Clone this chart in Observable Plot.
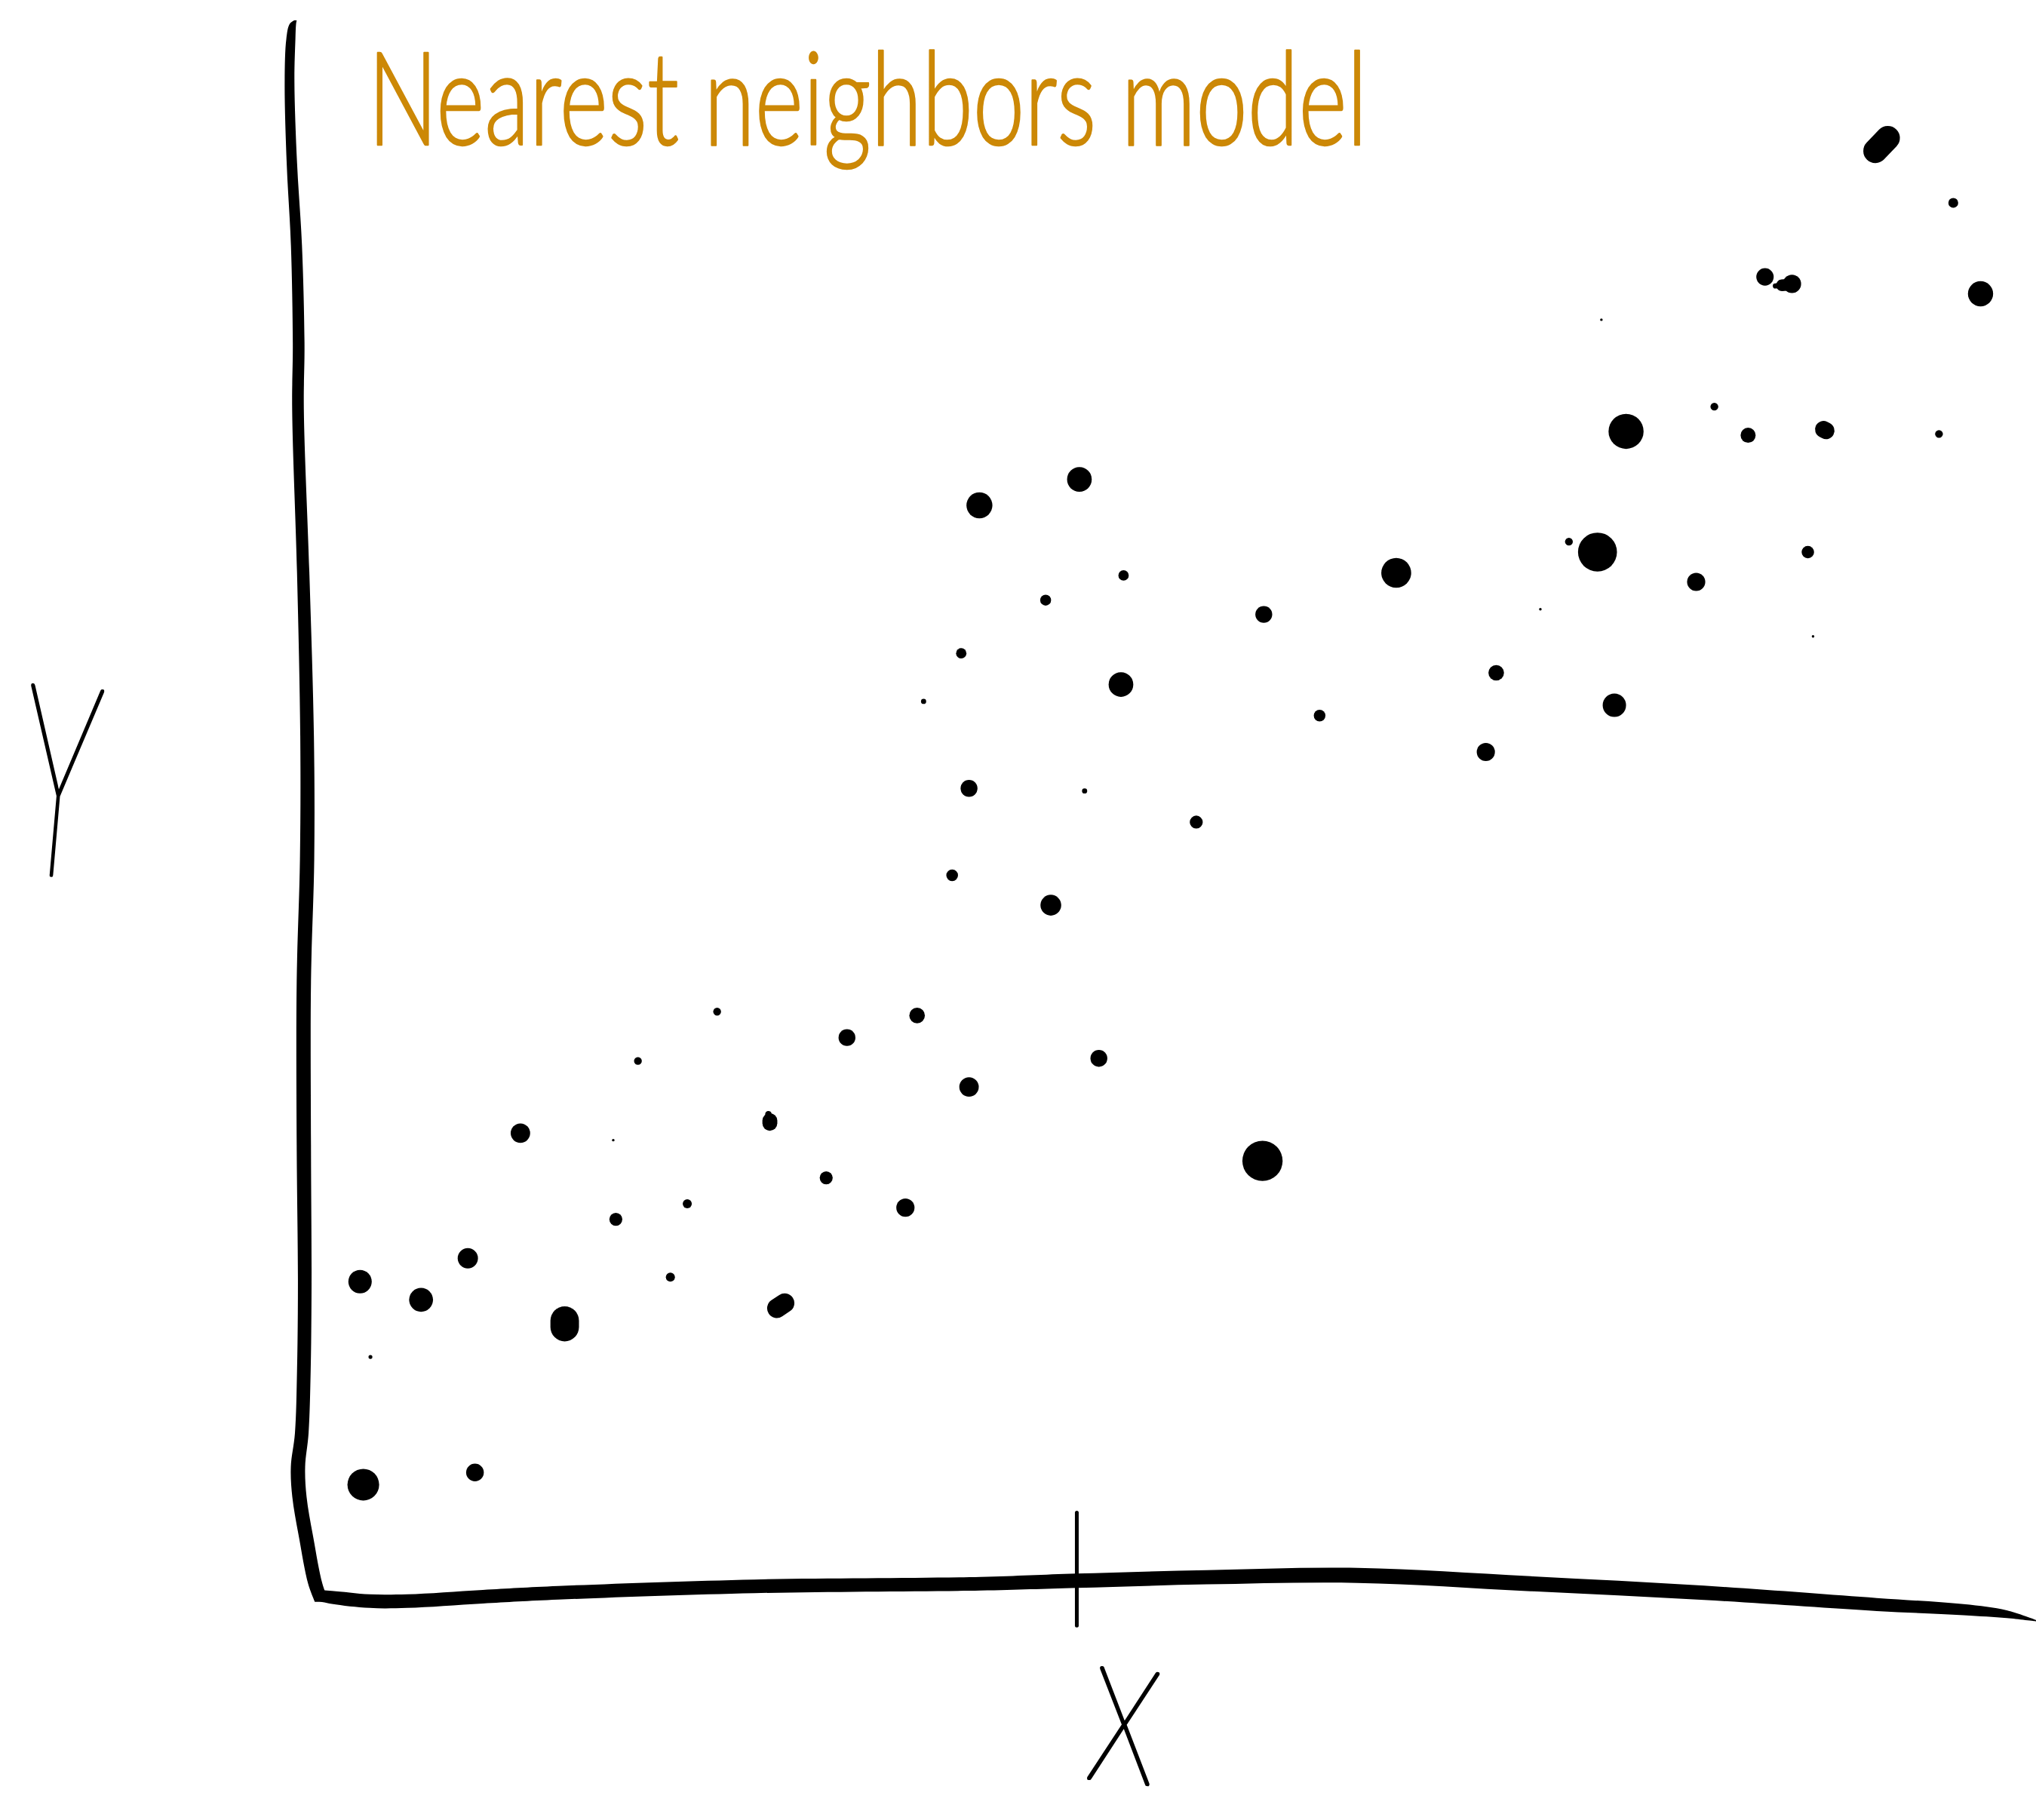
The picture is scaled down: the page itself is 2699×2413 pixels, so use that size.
<!DOCTYPE html>
<html>
<head>
<meta charset="utf-8">
<style>
html,body{margin:0;padding:0;background:#fff;overflow:hidden}
svg{display:block;background:#fff}
</style>
<script src="https://cdn.jsdelivr.net/npm/d3@7"></script>
<script src="https://cdn.jsdelivr.net/npm/@observablehq/plot@0.6"></script>
</head>
<body>
<div id="chart"></div>
<script>
const titleText = "Nearest neighbors model";
const xLabel = "X";
const yLabel = "Y";

const pointX = [1504,1359,1525,1233,1320,1252,1346,1493,831,754,1208,1230,1392,865,1075,1306,805,973,1186,1396,740,1152,863,711,1243,1016,1144,746,835,921,733,809,552,706,652,491,846,746,400.5,472,972,636,529,697,474,360,277,516,324,285,365.5,279.5,1379.8];
const pointY = [156,213,226,246,313,332,335,334,369,389,417,425,425,443,441,448,462,473,469,490,503,518,527,540,543,551,579,607,609,633,674,697,779,782,799,817,815,837,872.6,878,894,907,927,930,939,969,987,983.5,1001,1045,1134,1143.4,218.4];
const pointR = [3.8,6.7,9.7,1,3,13.5,5.8,3,9.5,10,3,15,4.8,4,11.5,7,4.2,6.5,1,1,4,6,9.5,2,9,4.5,7,6.5,2,5,4.5,8,3,6,6.5,3,6.5,7.5,7.5,1,15.5,5,3.5,7,5,7.8,9,3.5,9.2,1.5,6.8,12.2,7];

// elongated blots: two ends and thickness
const blotX1 = [1444,1377,1372,1404,592.6,591.5,598,434.6];
const blotY1 = [116,219,219.5,330.5,865,858,1007.5,1017];
const blotX2 = [1453.6,1372,1367,1406,592.6,592,604,434.6];
const blotY2 = [106,219.5,220,331.5,863,862,1003.5,1022];
const blotW = [18.6,9,4,13,11.5,5,15,22];

// hand-drawn vertical axis: centre and thickness along its height
const axisVY = [15.7,18.6,30,62.7,126,188.8,264,315,441,567,662,756,882,988,1056,1104,1130,1153,1185,1220,1234];
const axisVX = [227.5,225.5,224,223,224.8,228.3,230,229.5,233.5,236.5,236.5,234,234,234.7,234,232.4,229.5,230.6,235.9,242.8,248];
const axisVW = [2,5,7,7.5,8,8.5,9,9,9.5,10.5,11,11,11,10.5,10.5,10.5,11,11,11,11,11];
// hand-drawn horizontal axis: centre and thickness along its width
const axisHX = [244,255.6,284.7,313.7,371.8,429.9,581,755,829,929.5,1045.7,1178.8,1312.4,1445.4,1512.2,1545.4,1568];
const axisHY = [1229,1230.5,1233.4,1233.4,1230,1227,1222,1220,1217.7,1215,1213.6,1220,1227,1236,1240,1243.5,1248.5];
const axisHW = [8,10,10.5,10.5,10.5,10.5,10.5,10.5,11,11,11.5,11.5,11,10,8.5,6,1];
const tickX = [829,829];
const tickY = [1165,1252];

const points = pointX.map((x,i)=>({x,y:pointY[i],r:pointR[i]}));
const blots = blotX1.map((x1,i)=>({x1,y1:blotY1[i],x2:blotX2[i],y2:blotY2[i],w:blotW[i]}));
const axisV = axisVY.map((y,i)=>({y,x1:axisVX[i]-axisVW[i]/2,x2:axisVX[i]+axisVW[i]/2}));
const axisH = axisHX.map((x,i)=>({x,y1:axisHY[i]-axisHW[i]/2,y2:axisHY[i]+axisHW[i]/2}));
const tickPath = tickX.map((x,i)=>({x,y:tickY[i]}));

const plot = Plot.plot({
  width: 2699, height: 2413,
  margin: 0,
  x: {domain:[0,1568], range:[0,2699], axis:null},
  y: {domain:[0,1402], range:[0,2413], axis:null},
  r: {type:"linear", domain:[0,100], range:[0,172.1]},
  marks: [
    Plot.areaX(axisV,{y:"y",x1:"x1",x2:"x2",fill:"#000",curve:"catmull-rom"}),
    Plot.areaY(axisH,{x:"x",y1:"y1",y2:"y2",fill:"#000",curve:"catmull-rom"}),
    Plot.line(tickPath,{x:"x",y:"y",stroke:"#000",strokeWidth:5}),
    Plot.dot(points,{x:"x",y:"y",r:"r",fill:"#000",stroke:null}),
    Plot.link(blots,{x1:"x1",y1:"y1",x2:"x2",y2:"y2",stroke:"#000",strokeWidth:d=>d.w*1.72,strokeLinecap:"round"}),
    Plot.text([titleText],{x:283,y:111,text:d=>d,textAnchor:"start",lineAnchor:"bottom",fill:"#CC8806",stroke:"#CC8806",strokeWidth:2.5,fontFamily:"Lato",fontWeight:300,fontSize:172}),
    Plot.text([xLabel],{x:865,y:1333,text:d=>d,fill:"#000",stroke:"#000",strokeWidth:5,fontFamily:"Lato",fontWeight:100,fontSize:210,rotate:6}),
    Plot.text([yLabel],{x:45,y:608,text:d=>d,fill:"#000",stroke:"#000",strokeWidth:5,fontFamily:"Lato",fontWeight:100,fontSize:355,rotate:5})
  ]
});
const squeeze = {[xLabel]:0.7,[yLabel]:0.5};
plot.querySelectorAll("text").forEach(t=>{
  if (t.textContent === titleText){
    t.setAttribute("textLength",1325);
    t.setAttribute("lengthAdjust","spacingAndGlyphs");
  } else if (squeeze[t.textContent]){
    t.setAttribute("transform",(t.getAttribute("transform")||"")+` scale(${squeeze[t.textContent]},1)`);
  }
});
document.getElementById("chart").append(plot);
</script>
</body>
</html>
